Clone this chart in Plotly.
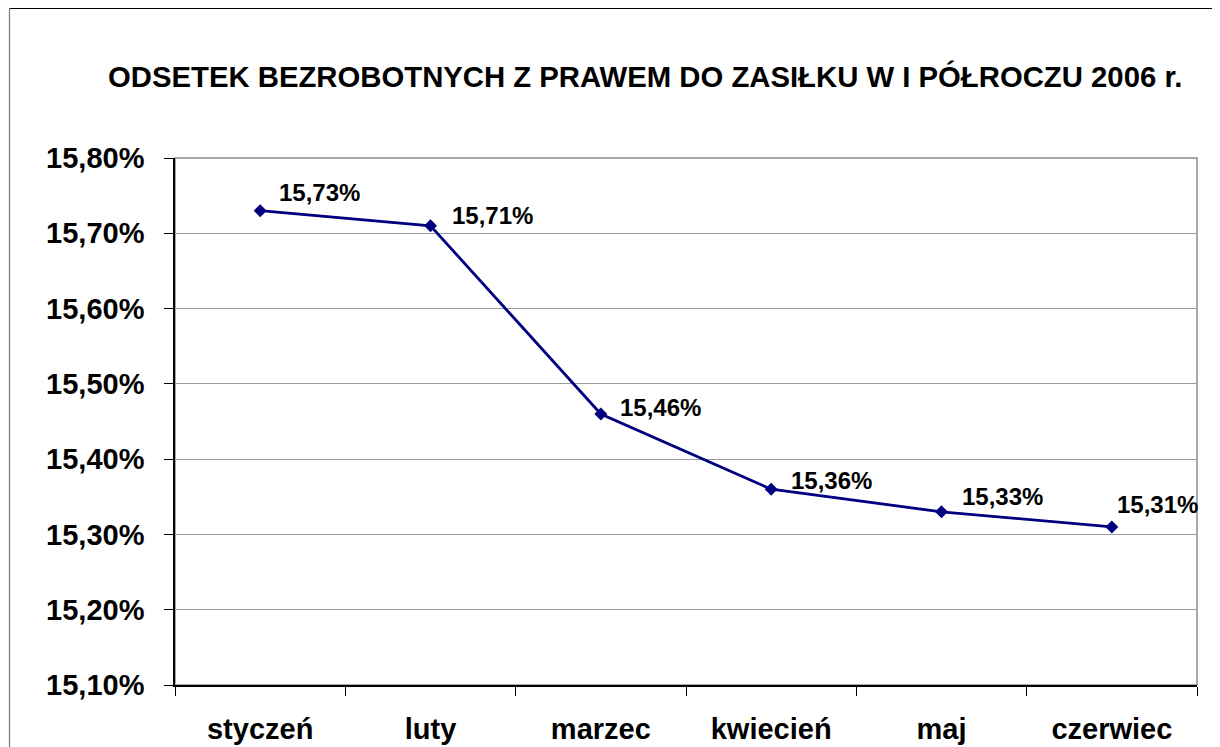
import plotly.graph_objects as go

# ---- data ----
months = ["styczeń", "luty", "marzec", "kwiecień", "maj", "czerwiec"]
values = [15.73, 15.71, 15.46, 15.36, 15.33, 15.31]
value_labels = ["15,73%", "15,71%", "15,46%", "15,36%", "15,33%", "15,31%"]
y_ticks = [15.10, 15.20, 15.30, 15.40, 15.50, 15.60, 15.70, 15.80]
y_tick_labels = ["15,10%", "15,20%", "15,30%", "15,40%", "15,50%", "15,60%", "15,70%", "15,80%"]
title_text = "ODSETEK BEZROBOTNYCH Z PRAWEM DO ZASIŁKU W I PÓŁROCZU 2006 r."

# label offsets (styling, pixels)
label_dx = [17, 19, 17, 18, 18, 3]
label_dy = [18, 10, 6, 9, 15, 22]

FONT = "Liberation Sans, Arial, sans-serif"
OFF = 8  # default page body margin
W, H = 1220 - OFF, 747 - OFF
L, R, T, B = 175 - OFF, 23, 158 - OFF, 62
pw, ph = W - L - R, H - T - B


def px_x(px):  # page pixel -> paper x
    return (px - OFF - L) / pw


def px_y(py):  # page pixel -> paper y
    return (H - B - (py - OFF)) / ph


fig = go.Figure()
fig.add_trace(go.Scatter(
    x=months, y=values, mode="lines+markers",
    line=dict(color="#000080", width=2.8),
    marker=dict(symbol="diamond", size=10, color="#000080"),
    hoverinfo="skip", showlegend=False,
))

for m, v, t, dx, dy in zip(months, values, value_labels, label_dx, label_dy):
    fig.add_annotation(x=m, y=v, xref="x", yref="y", text="<b>" + t + "</b>", showarrow=False,
                       xanchor="left", yanchor="middle", xshift=dx, yshift=dy,
                       font=dict(family=FONT, size=24, color="black"))

# title
fig.add_annotation(x=px_x(645), y=px_y(76), xref="paper", yref="paper",
                   text="<b>" + title_text + "</b>", showarrow=False,
                   xanchor="center", yanchor="middle",
                   font=dict(family=FONT, size=29.3, color="black"))

# plot area frame (gray) and outer chart border
fig.add_shape(type="rect", xref="paper", yref="paper", x0=0, x1=1, y0=0, y1=1,
              line=dict(color="#8c8c8c", width=1.5), layer="below")
fig.add_shape(type="line", xref="paper", yref="paper",
              x0=px_x(9.5), x1=px_x(1240), y0=px_y(8.5), y1=px_y(8.5),
              line=dict(color="black", width=1.2))
fig.add_shape(type="line", xref="paper", yref="paper",
              x0=px_x(9.5), x1=px_x(9.5), y0=px_y(8.5), y1=px_y(800),
              line=dict(color="#777777", width=1.2))

fig.update_layout(
    width=W, height=H,
    margin=dict(l=L, r=R, t=T, b=B, pad=0, autoexpand=False),
    paper_bgcolor="white", plot_bgcolor="white",
    font=dict(family=FONT, color="black"),
    xaxis=dict(
        type="category", range=[-0.5, 5.5], automargin=False,
        tickvals=months, ticktext=["<b>" + m + "</b>" for m in months],
        tickson="boundaries", ticks="outside", ticklen=9, tickcolor="black", tickwidth=1,
        showline=True, linecolor="black", linewidth=1.5,
        showgrid=False, zeroline=False,
        tickfont=dict(family=FONT, size=29, color="black"),
        ticklabelstandoff=17,
    ),
    yaxis=dict(
        range=[15.10, 15.80], tickvals=y_ticks, automargin=False,
        ticktext=["<b>" + s + "</b>" for s in y_tick_labels],
        ticks="outside", ticklen=9, tickcolor="black", tickwidth=1,
        showline=True, linecolor="black", linewidth=1.5,
        showgrid=True, gridcolor="#9a9a9a", gridwidth=1, zeroline=False,
        tickfont=dict(family=FONT, size=29, color="black"),
        ticklabelstandoff=14,
    ),
)

fig.write_html("out.html")
